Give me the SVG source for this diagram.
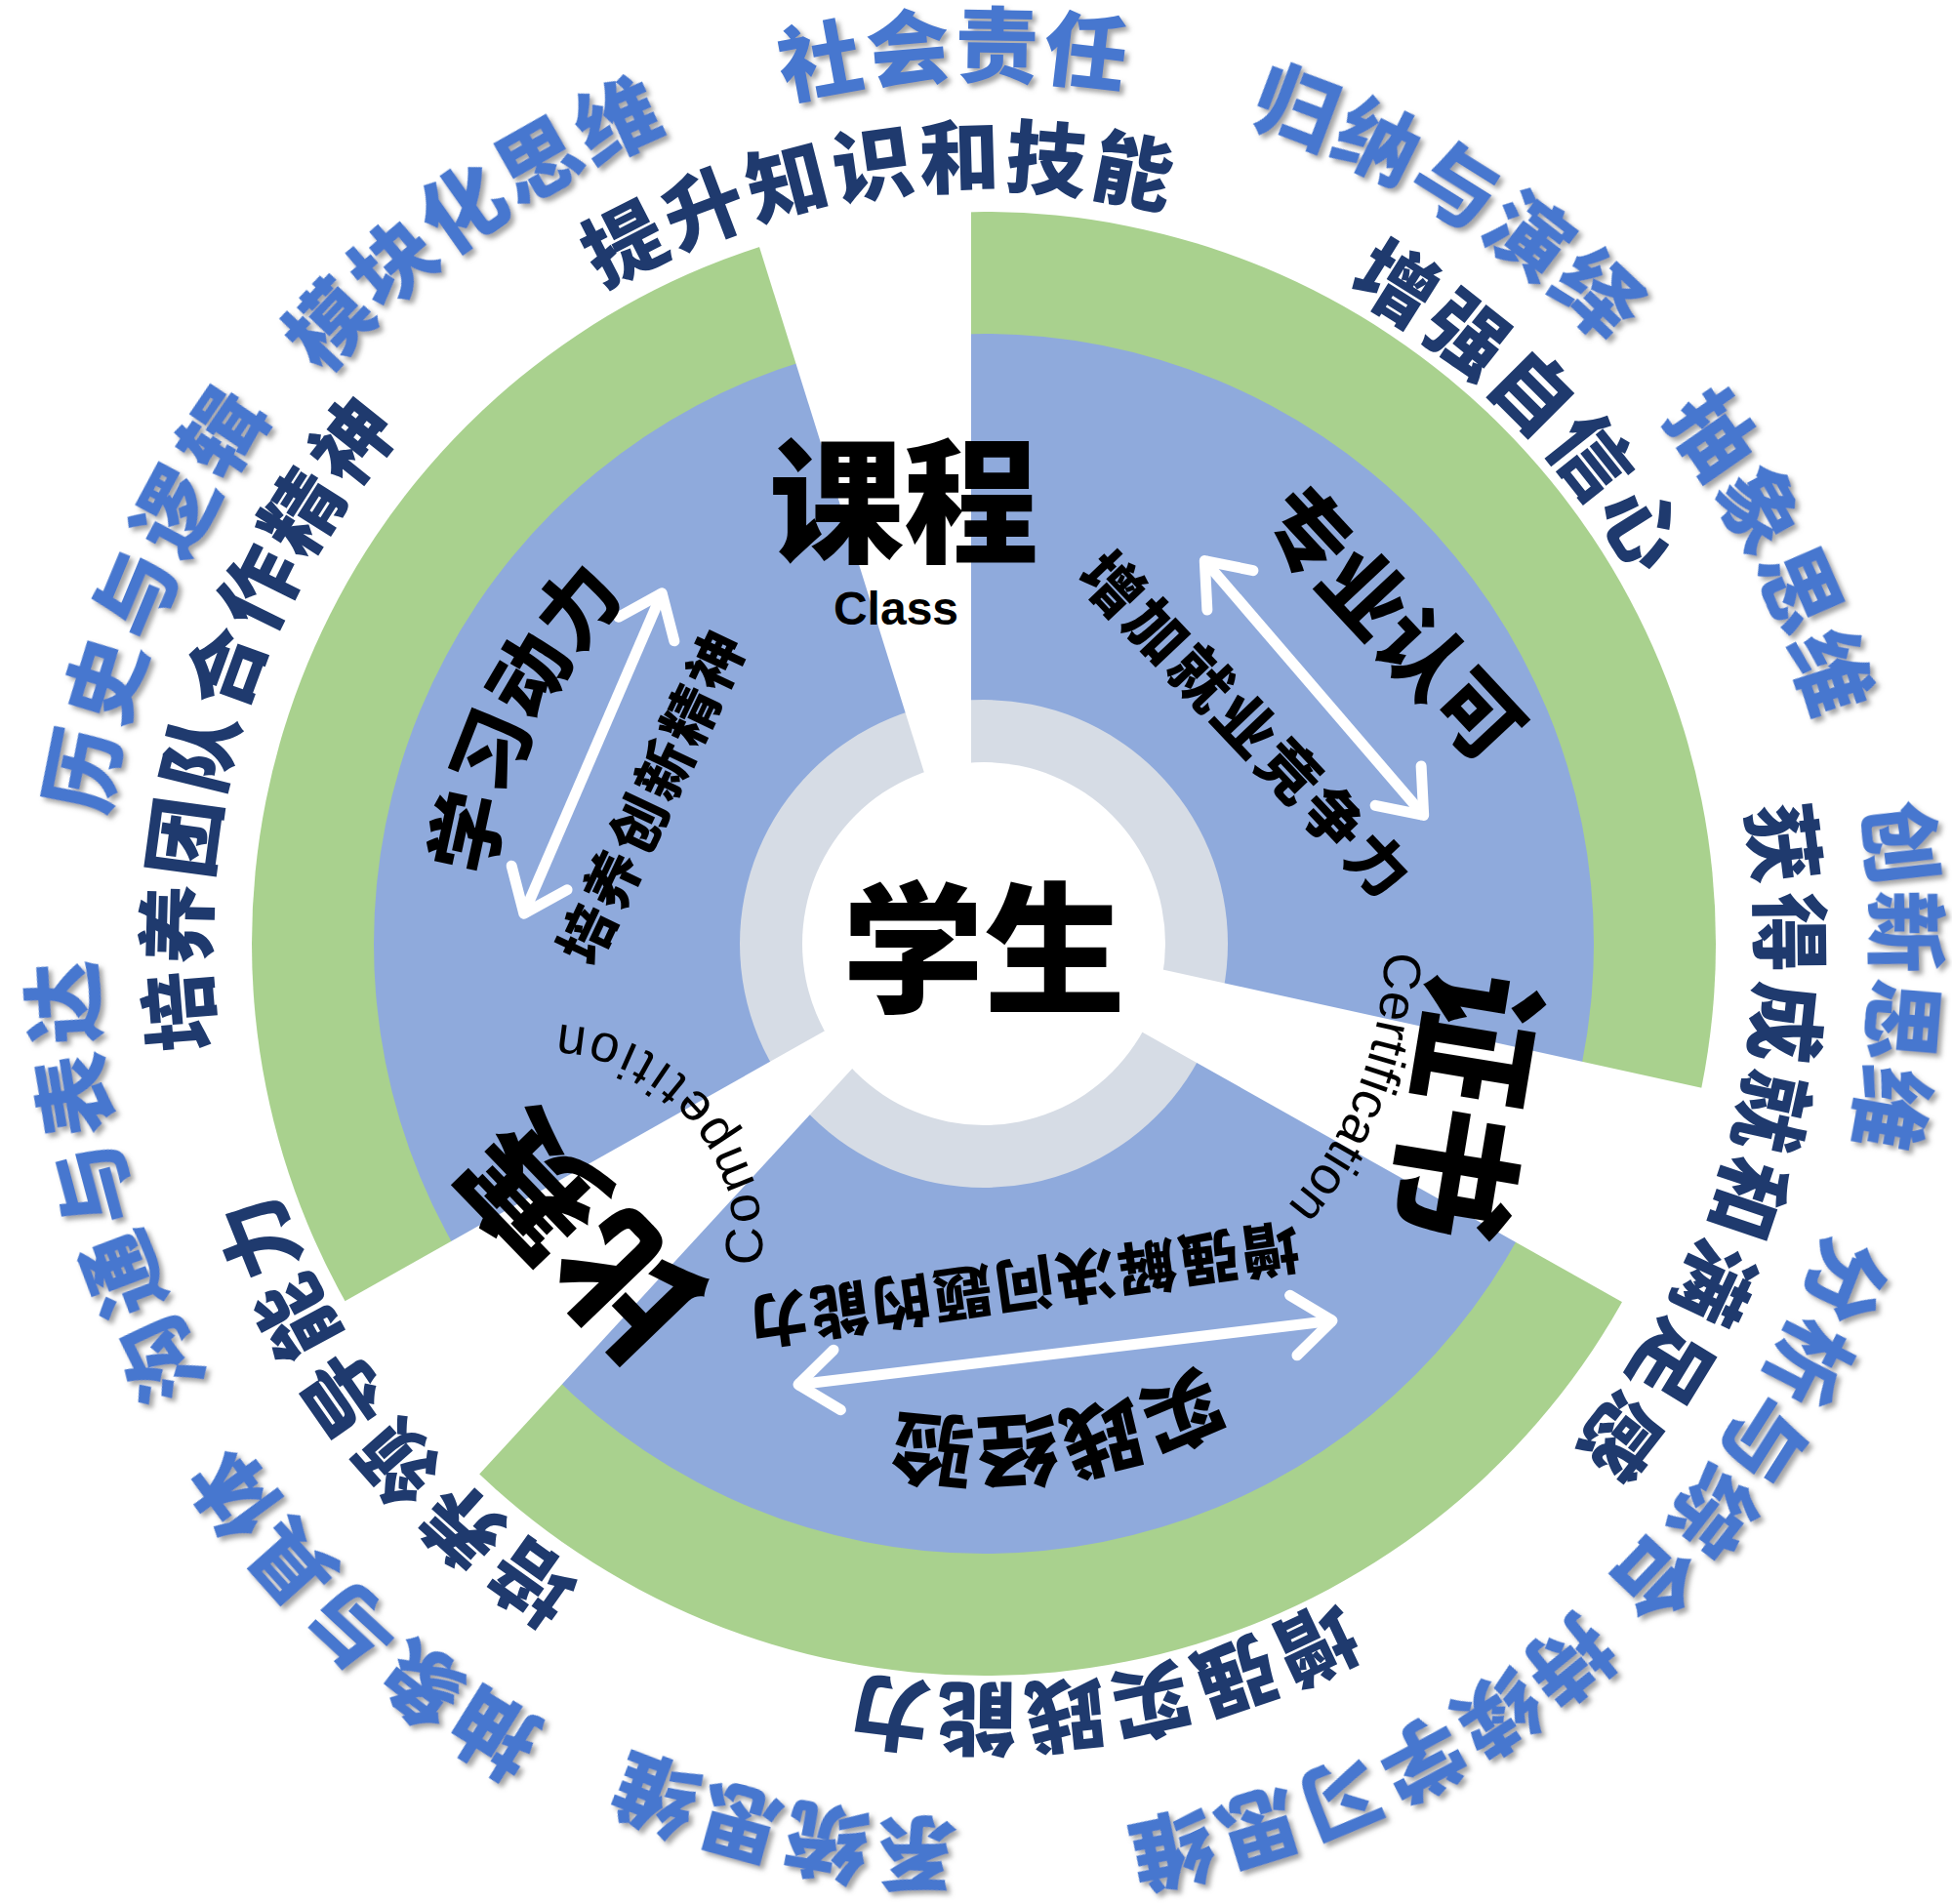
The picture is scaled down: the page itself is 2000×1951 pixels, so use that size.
<svg xmlns="http://www.w3.org/2000/svg" width="2000" height="1951" viewBox="0 0 2000 1951">
<style>
.cjk{font-family:'Noto Sans CJK SC','Noto Sans',sans-serif;font-weight:900}
.lb{fill:#4677CF;font-size:85px;letter-spacing:3px}
.nv{fill:#1F3A6E;font-size:82px;letter-spacing:4px}
.bk{fill:#000}
.big{font-size:138px;font-weight:900}
.en{font-family:'Liberation Sans',Arial,sans-serif;fill:#000}
.arrow{stroke:#fff;stroke-width:11;fill:none;marker-start:url(#chev);marker-end:url(#chev)}
.gap{fill:#fff}
</style>
<defs>
<filter id="sh" filterUnits="userSpaceOnUse" x="0" y="0" width="2000" height="1951">
<feDropShadow dx="4" dy="4" stdDeviation="2.5" flood-color="#7f7f7f" flood-opacity="0.7"/>
</filter>
<marker id="chev" markerUnits="userSpaceOnUse" viewBox="-60 -45 70 90" markerWidth="70" markerHeight="90" refX="0" refY="0" orient="auto-start-reverse" overflow="visible">
<path d="M-42,-31 L-2,0 L-42,31" fill="none" stroke="#fff" stroke-width="11" stroke-linecap="round" stroke-linejoin="round"/>
</marker>
<path id="p889" d="M379.4,338.4 A889,889 0 0 1 1636.6,338.4"/>
<path id="p884" d="M382.9,341.9 A884,884 0 0 1 1633.1,341.9"/>
<path id="p880" d="M385.7,344.7 A880,880 0 0 1 1630.3,344.7"/>
<path id="p913" d="M362.4,321.4 A913,913 0 0 1 1653.6,321.4"/>
<path id="p916" d="M360.3,319.3 A916,916 0 0 1 1655.7,319.3"/>
<path id="p917" d="M359.6,318.6 A917,917 0 0 1 1656.4,318.6"/>
<path id="p903" d="M369.5,328.5 A903,903 0 0 1 1646.5,328.5"/>
<path id="p921" d="M356.8,315.8 A921,921 0 0 1 1659.2,315.8"/>
<path id="p908" d="M365.9,324.9 A908,908 0 0 1 1650.1,324.9"/>
<path id="p892" d="M377.3,336.3 A892,892 0 0 1 1638.7,336.3"/>
<path id="p776" d="M459.3,418.3 A776,776 0 0 1 1556.7,418.3"/>
<path id="p767" d="M465.6,424.6 A767,767 0 0 1 1550.4,424.6"/>
<path id="p795" d="M445.8,404.8 A795,795 0 0 1 1570.2,404.8"/>
<path id="p764" d="M467.8,426.8 A764,764 0 0 1 1548.2,426.8"/>
<path id="p771" d="M462.8,421.8 A771,771 0 0 1 1553.2,421.8"/>
<path id="p796" d="M445.1,404.1 A796,796 0 0 1 1570.9,404.1"/>
<path id="p511" d="M646.7,605.7 A511,511 0 0 1 1369.3,605.7"/>
<path id="p490" d="M661.5,620.5 A490,490 0 0 1 1354.5,620.5"/>
<path id="p411" d="M717.4,676.4 A411,411 0 0 1 1298.6,676.4"/>
<path id="pcomp" d="M768.7,1348.6 A226,226 0 0 0 511.9,1053.2"/>
</defs>

<g id="rings">
<circle cx="1008" cy="967" r="750" fill="#A9D18E"/>
<circle cx="1008" cy="967" r="625" fill="#8FAADC"/>
<circle cx="1008" cy="967" r="250" fill="#D6DCE5"/>
<polygon class="gap" points="995,945 995,100 730,100"/>
<polygon class="gap" points="970,945 1900,1149 1900,1468"/>
<polygon class="gap" points="977,982 100,1476 100,1936"/>
<circle cx="1008" cy="967" r="186" fill="#fff"/>
</g>

<g id="connectors">
<line class="arrow" x1="536" y1="938" x2="679" y2="606"/>
<line class="arrow" x1="1233" y1="573" x2="1460" y2="837"/>
<line class="arrow" x1="816" y1="1419" x2="1367" y2="1353"/>
</g>

<g id="node-student">
<text class="cjk bk" x="1008" y="1027" text-anchor="middle" style="font-size:145px">学生</text>
</g>

<g id="node-class">
<text class="cjk bk big" x="926" y="565" text-anchor="middle">课程</text>
<text class="en" x="918" y="640" font-size="48" font-weight="700" text-anchor="middle">Class</text>
<g transform="rotate(296 1008 967)"><text class="cjk bk" font-size="82" text-anchor="middle"><textPath href="#p511" startOffset="50%">学习动力</textPath></text></g>
<g transform="translate(668,815) rotate(-64.7)"><text class="cjk bk" x="0" y="22" font-size="58" letter-spacing="4" text-anchor="middle">培养创新精神</text></g>
</g>

<g id="node-certification">
<g transform="translate(1502,1133) rotate(99.3)"><text class="cjk bk big" x="0" y="52" text-anchor="middle">证书</text></g>
<g transform="rotate(111 1008 967)"><text class="en" font-size="54" text-anchor="middle"><textPath href="#p411" startOffset="50%">Certification</textPath></text></g>
<g transform="translate(1428,638) rotate(47)"><text class="cjk bk" x="0" y="33" font-size="86" text-anchor="middle">专业认可</text></g>
<g transform="translate(1278,743) rotate(46.6)"><text class="cjk bk" x="0" y="24" font-size="62" letter-spacing="4" text-anchor="middle">增加就业竞争力</text></g>
</g>

<g id="node-competition">
<g transform="translate(594,1267) rotate(226)"><text class="cjk bk big" x="0" y="52" text-anchor="middle">比赛</text></g>
<text class="en" font-size="54" letter-spacing="7" text-anchor="middle"><textPath href="#pcomp" startOffset="50%">Competition</textPath></text>
<g transform="rotate(171.4 1008 967)"><text class="cjk bk" font-size="82" text-anchor="middle"><textPath href="#p490" startOffset="50%">实践经验</textPath></text></g>
<g transform="translate(1048,1317) rotate(172)"><text class="cjk bk" x="0" y="23" font-size="60" letter-spacing="3.5" text-anchor="middle">增强解决问题的能力</text></g>
</g>

<g id="benefits" class="cjk nv">
<g transform="rotate(-8 1008 967)"><text text-anchor="middle"><textPath href="#p776" startOffset="50%">提升知识和技能</textPath></text></g>
<g transform="rotate(45 1008 967)"><text text-anchor="middle"><textPath href="#p767" startOffset="50%">增强自信心</textPath></text></g>
<g transform="rotate(105.5 1008 967)"><text text-anchor="middle" letter-spacing="7"><textPath href="#p795" startOffset="50%">获得成就和满足感</textPath></text></g>
<g transform="rotate(170.9 1008 967)"><text text-anchor="middle"><textPath href="#p764" startOffset="50%">增强实践能力</textPath></text></g>
<g transform="rotate(231.8 1008 967)"><text text-anchor="middle" letter-spacing="6"><textPath href="#p771" startOffset="50%">培养领导能力</textPath></text></g>
<g transform="rotate(287 1008 967)"><text text-anchor="middle"><textPath href="#p796" startOffset="50%">培养团队合作精神</textPath></text></g>
</g>

<g id="thinking" class="cjk lb" filter="url(#sh)">
<g transform="rotate(-1.9 1008 967)"><text text-anchor="middle"><textPath href="#p889" startOffset="50%">社会责任</textPath></text></g>
<g transform="rotate(32 1008 967)"><text text-anchor="middle"><textPath href="#p884" startOffset="50%">归纳与演绎</textPath></text></g>
<g transform="rotate(63.7 1008 967)"><text text-anchor="middle"><textPath href="#p880" startOffset="50%">抽象思维</textPath></text></g>
<g transform="rotate(92.1 1008 967)"><text text-anchor="middle"><textPath href="#p913" startOffset="50%">创新思维</textPath></text></g>
<g transform="rotate(122.5 1008 967)"><text text-anchor="middle"><textPath href="#p916" startOffset="50%">分析与综合</textPath></text></g>
<g transform="rotate(154.6 1008 967)"><text text-anchor="middle"><textPath href="#p917" startOffset="50%">持续学习思维</textPath></text></g>
<g transform="rotate(192.8 1008 967)"><text text-anchor="middle"><textPath href="#p903" startOffset="50%">系统思维</textPath></text></g>
<g transform="rotate(222.8 1008 967)"><text text-anchor="middle"><textPath href="#p921" startOffset="50%">抽象与具体</textPath></text></g>
<g transform="rotate(255 1008 967)"><text text-anchor="middle" letter-spacing="7"><textPath href="#p913" startOffset="50%">沟通与表达</textPath></text></g>
<g transform="rotate(292.6 1008 967)"><text text-anchor="middle" letter-spacing="6"><textPath href="#p908" startOffset="50%">历史与逻辑</textPath></text></g>
<g transform="rotate(324.8 1008 967)"><text text-anchor="middle"><textPath href="#p892" startOffset="50%">模块化思维</textPath></text></g>
</g>
</svg>
